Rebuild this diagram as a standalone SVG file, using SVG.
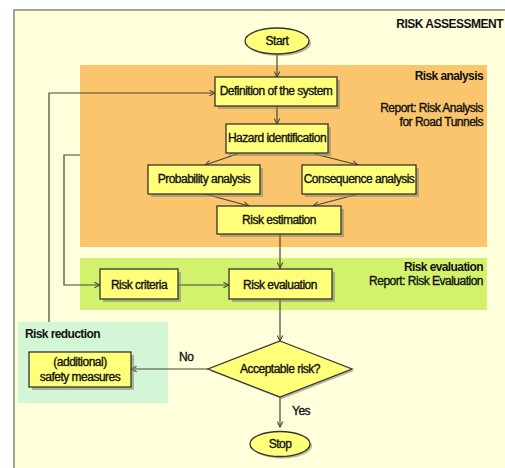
<svg xmlns="http://www.w3.org/2000/svg" width="505" height="468" viewBox="0 0 505 468">
<defs>
<style>
.t{font-family:"Liberation Sans",Arial,sans-serif;font-size:12px;fill:#111;letter-spacing:-0.5px;stroke:#111;stroke-width:0.35}
.b{font-family:"Liberation Sans",Arial,sans-serif;font-size:12px;font-weight:bold;fill:#111;letter-spacing:-0.6px}
.box{fill:#FFFF7A;stroke:#333;stroke-width:1.3}
.sh{fill:#8a8a70;opacity:0.6}
.ln{fill:none;stroke:#4a4535;stroke-width:1.2}
.ar{fill:none;stroke:#4a4535;stroke-width:1.2;marker-end:url(#ah)}
</style>
<marker id="ah" viewBox="0 0 10 10" refX="9" refY="5" markerWidth="7" markerHeight="7" orient="auto" markerUnits="userSpaceOnUse">
<path d="M1,1 L9,5 L1,9" fill="none" stroke="#4a4535" stroke-width="1.5"/>
</marker>
</defs>
<rect x="0" y="0" width="505" height="468" fill="#ffffff"/>
<rect x="14" y="10" width="500" height="470" fill="#FFFFDC" stroke="#8a8570" stroke-width="1.5"/>
<g id="region-analysis">
<rect x="80" y="65" width="407" height="182" fill="#FBC56E"/>
<text class="b" x="483" y="80" text-anchor="end">Risk analysis</text>
<text class="t" x="483" y="112" text-anchor="end">Report: Risk  Analysis</text>
<text class="t" x="483" y="126" text-anchor="end">for Road Tunnels</text>
</g>
<g id="region-evaluation">
<rect x="80" y="258" width="407" height="52" fill="#D2F26E"/>
<text class="b" x="483" y="271" text-anchor="end">Risk evaluation</text>
<text class="t" x="483" y="285" text-anchor="end">Report: Risk Evaluation</text>
</g>
<g id="region-reduction">
<rect x="18" y="322" width="150" height="81" fill="#D2F6D6"/>
<text class="b" x="25" y="338">Risk reduction</text>
</g>
<text class="b" x="503" y="28" text-anchor="end" style="letter-spacing:-0.5px">RISK ASSESSMENT</text>
<g id="connectors">
<line class="ar" x1="277" y1="55" x2="277" y2="77"/>
<line class="ar" x1="277" y1="106" x2="277" y2="124"/>
<line class="ar" x1="237" y1="154" x2="205" y2="165"/>
<line class="ar" x1="315" y1="154" x2="358" y2="165"/>
<line class="ar" x1="205" y1="194" x2="249" y2="206"/>
<line class="ar" x1="358" y1="194" x2="313" y2="206"/>
<line class="ar" x1="280" y1="234" x2="280" y2="268"/>
<line class="ar" x1="178" y1="285" x2="229" y2="285"/>
<line class="ar" x1="280" y1="299" x2="280" y2="341"/>
<line class="ar" x1="208" y1="369" x2="131" y2="369"/>
<line class="ar" x1="280" y1="397" x2="280" y2="427"/>
<polyline class="ar" points="49,322 49,93 215,93"/>
<polyline class="ar" points="80,155 64,155 64,285 100,285"/>
<text class="t" x="179" y="361">No</text>
<text class="t" x="292" y="415">Yes</text>
</g>
<g id="start">
<ellipse cx="279" cy="43" rx="32" ry="13" class="sh"/>
<ellipse cx="277" cy="41" rx="32" ry="13" class="box"/>
<text class="t" x="277" y="45" text-anchor="middle">Start</text>
</g>
<g id="definition">
<rect x="218" y="80" width="122" height="29" class="sh"/>
<rect x="215" y="77" width="122" height="29" class="box"/>
<text class="t" x="276" y="95" text-anchor="middle">Definition of the system</text>
</g>
<g id="hazard">
<rect x="229" y="127" width="102" height="29" class="sh"/>
<rect x="226" y="124" width="102" height="29" class="box"/>
<text class="t" x="277" y="142" text-anchor="middle">Hazard identification</text>
</g>
<g id="probability">
<rect x="151" y="168" width="112" height="29" class="sh"/>
<rect x="148" y="165" width="112" height="29" class="box"/>
<text class="t" x="204" y="183" text-anchor="middle">Probability analysis</text>
</g>
<g id="consequence">
<rect x="305" y="168" width="114" height="29" class="sh"/>
<rect x="302" y="165" width="114" height="29" class="box"/>
<text class="t" x="359" y="183" text-anchor="middle">Consequence analysis</text>
</g>
<g id="estimation">
<rect x="220" y="209" width="124" height="28" class="sh"/>
<rect x="217" y="206" width="124" height="28" class="box"/>
<text class="t" x="279" y="224" text-anchor="middle">Risk estimation</text>
</g>
<g id="criteria">
<rect x="103" y="272" width="78" height="30" class="sh"/>
<rect x="100" y="269" width="78" height="30" class="box"/>
<text class="t" x="139" y="289" text-anchor="middle">Risk criteria</text>
</g>
<g id="evaluation">
<rect x="232" y="272" width="103" height="30" class="sh"/>
<rect x="229" y="269" width="103" height="30" class="box"/>
<text class="t" x="280" y="289" text-anchor="middle">Risk evaluation</text>
</g>
<g id="decision">
<polygon points="282,343 354,371 282,399 210,371" class="sh"/>
<polygon points="280,341 352,369 280,397 208,369" class="box"/>
<text class="t" x="280" y="373" text-anchor="middle">Acceptable risk?</text>
</g>
<g id="safety">
<rect x="32" y="355" width="102" height="35" class="sh"/>
<rect x="29" y="352" width="102" height="35" class="box"/>
<text class="t" x="80" y="366" text-anchor="middle">(additional)</text>
<text class="t" x="80" y="381" text-anchor="middle">safety measures</text>
</g>
<g id="stop">
<ellipse cx="282" cy="446" rx="30" ry="12.5" class="sh"/>
<ellipse cx="280" cy="444" rx="30" ry="12.5" class="box"/>
<text class="t" x="280" y="448" text-anchor="middle">Stop</text>
</g>
</svg>
